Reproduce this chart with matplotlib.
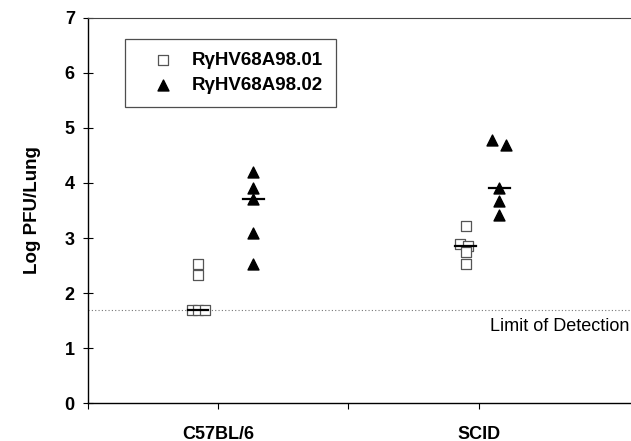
import matplotlib.pyplot as plt
import numpy as np

plt.rcParams['font.family'] = ['Liberation Sans', 'DejaVu Sans']

groups = ['C57BL/6', 'SCID']
series = ['R\u03b3HV68A98.01', 'R\u03b3HV68A98.02']

# Log PFU/Lung per mouse
b6_01 = [2.53, 2.33, 1.70, 1.70, 1.70]
b6_02 = [4.19, 3.91, 3.70, 3.09, 2.53]
scid_01 = [3.22, 2.90, 2.85, 2.74, 2.53]
scid_02 = [4.77, 4.68, 3.91, 3.68, 3.41]
detect_limit = 1.70

# horizontal scatter of points around group position
jit_b6_01 = [-0.155, -0.155, -0.205, -0.155, -0.105]
jit_b6_02 = [0.27, 0.27, 0.27, 0.27, 0.27]
jit_scid_01 = [-0.10, -0.14, -0.08, -0.10, -0.10]
jit_scid_02 = [0.10, 0.21, 0.16, 0.16, 0.16]

fig = plt.figure(figsize=(6.31, 4.41), dpi=100)
ax = fig.add_axes([88 / 631, 0.0855, 1 - 88 / 631, 0.8745])

pos = {'C57BL/6': 1, 'SCID': 3}
sq = dict(marker='s', s=48, facecolor='white', edgecolor='#555555', linewidth=0.9, zorder=3)
tri = dict(marker='^', s=62, color='black', zorder=3)

for g, d1, j1, d2, j2 in [('C57BL/6', b6_01, jit_b6_01, b6_02, jit_b6_02),
                          ('SCID', scid_01, jit_scid_01, scid_02, jit_scid_02)]:
    x0 = pos[g]
    ax.scatter(x0 + np.array(j1), d1, label=series[0] if g == 'C57BL/6' else None, **sq)
    ax.scatter(x0 + np.array(j2), d2, label=series[1] if g == 'C57BL/6' else None, **tri)
    # median bars
    c1 = x0 + np.median(j1)
    c2 = x0 + np.median(j2)
    ax.plot([c1 - 0.08, c1 + 0.08], [np.median(d1)] * 2, color='black', lw=1.6, zorder=4)
    ax.plot([c2 - 0.08, c2 + 0.08], [np.median(d2)] * 2, color='black', lw=1.6, zorder=4)

ax.axhline(detect_limit, color='#777777', lw=0.8, ls=(0, (1, 2)), zorder=1)
ax.text(4.16, detect_limit - 0.3, 'Limit of Detection', ha='right', va='center', fontsize=13)

ax.set_xlim(0, 4.17)
ax.set_ylim(0, 7)
ax.set_xticks([0, 1, 2, 3])
ax.set_xticklabels(['', groups[0], '', groups[1]], fontsize=13, fontweight='bold')
ax.set_yticks(range(8))
ax.set_yticklabels([str(i) for i in range(8)], fontsize=13, fontweight='bold')
ax.tick_params(axis='x', direction='out', length=4, pad=12)
ax.tick_params(axis='y', direction='inout', length=7, pad=6)
ax.set_ylabel('Log PFU/Lung', fontsize=13.5, fontweight='bold', labelpad=17)

ax.spines['right'].set_visible(False)
ax.spines['top'].set_color('#444444')
ax.spines['top'].set_linewidth(0.8)
for s in ['left', 'bottom']:
    ax.spines[s].set_linewidth(1.0)

leg = ax.legend(loc='upper left', bbox_to_anchor=(37 / 543, 0.944), frameon=True, fancybox=False,
                edgecolor='#222222', prop={'weight': 'bold', 'size': 13.5}, borderpad=0.67,
                handletextpad=0.2, borderaxespad=0, labelspacing=0.44, handlelength=2.7)
leg.get_frame().set_linewidth(0.9)

fig.savefig('out.png', dpi=100)
